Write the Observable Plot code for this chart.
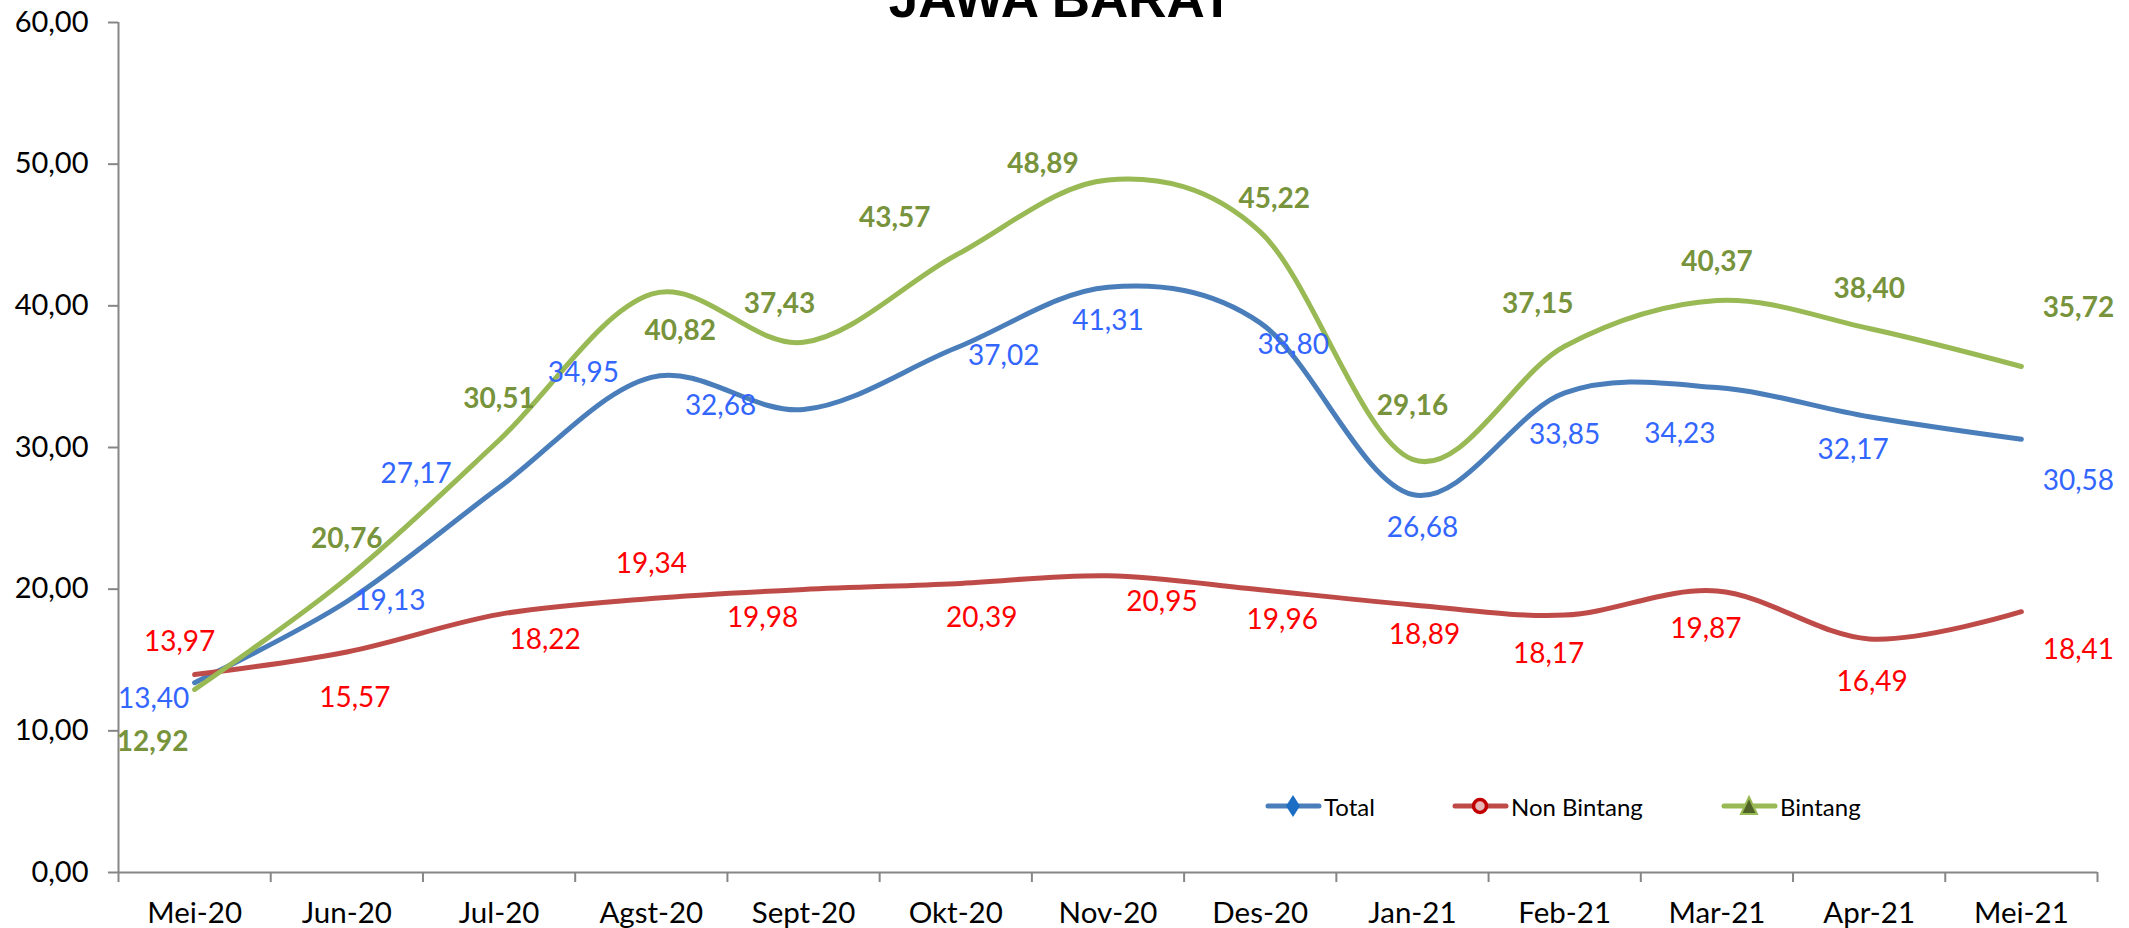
<!DOCTYPE html>
<html>
<head>
<meta charset="utf-8">
<script src="https://cdn.jsdelivr.net/npm/d3@7"></script>
<script src="https://cdn.jsdelivr.net/npm/@observablehq/plot@0.6"></script>
<style>
  body { margin: 0; background: #fff; }
  #wrap { position: relative; width: 2129px; height: 928px; overflow: hidden; background: #fff; }
  #title { position: absolute; left: 1061px; top: -28px; transform: translateX(-50%); margin: 0;
           font: bold 53px "Liberation Sans", Arial, sans-serif; line-height: 1; white-space: nowrap; color: #000; }
  .legend-item { position: absolute; top: 790px; height: 32px; display: flex; align-items: center;
                 font: 24px Lato, sans-serif; color: #000; white-space: nowrap; }
  .legend-item svg { margin-right: 2px; }
</style>
</head>
<body>
<div id="wrap">
  <div id="chart"></div>
  <h1 id="title">JAWA BARAT</h1>
  <div id="legend"></div>
</div>
<script>
// ---- data ----
const months = ["Mei-20","Jun-20","Jul-20","Agst-20","Sept-20","Okt-20","Nov-20","Des-20","Jan-21","Feb-21","Mar-21","Apr-21","Mei-21"];
const total      = [13.40,19.13,27.17,34.95,32.68,37.02,41.31,38.80,26.68,33.85,34.23,32.17,30.58];
const nonBintang = [13.97,15.57,18.22,19.34,19.98,20.39,20.95,19.96,18.89,18.17,19.87,16.49,18.41];
const bintang    = [12.92,20.76,30.51,40.82,37.43,43.57,48.89,45.22,29.16,37.15,40.37,38.40,35.72];
const yTicks = [0,10,20,30,40,50,60];
const seriesNames = ["Total","Non Bintang","Bintang"];

// ---- label placement (pixel nudges from each point) ----
const totalNudge = [[-41,16],[43,0],[-83,-14],[-68,-4],[-83,-4],[48,8],[0,34],[33,22],[10,33],[0,42],[-37,46],[-16,33],[57,42]];
const nonBintangNudge = [[-15,-33],[8,46],[46,26],[0,-34],[-41,29],[26,34],[54,26],[22,30],[12,30],[-16,39],[-11,38],[3,43],[57,38]];
const bintangNudge = [[-42,53],[0,-39],[0,-41],[29,37],[-24,-38],[-61,-37],[-65,-16],[14,-33],[0,-53],[-27,-42],[0,-39],[0,-39],[57,-58]];

const fmt = v => v.toFixed(2).replace(".", ",");

const series = [
  {name: seriesNames[0], values: total,      nudge: totalNudge,      line: "#4A7EBB", label: "#3366FF", weight: "normal"},
  {name: seriesNames[1], values: nonBintang, nudge: nonBintangNudge, line: "#BE4B48", label: "#FF0000", weight: "normal"},
  {name: seriesNames[2], values: bintang,    nudge: bintangNudge,    line: "#98B954", label: "#77933C", weight: "bold"}
];

const marks = [
  Plot.axisY({ticks: yTicks, tickSize: 10, tickPadding: 20, tickFormat: fmt, stroke: "#868686", strokeWidth: 2, fill: "#000", fontSize: 29, label: null}),
  Plot.axisX({ticks: d3.range(months.length + 1), tickSize: 10, tickFormat: () => "", stroke: "#868686", strokeWidth: 2, label: null}),
  Plot.axisX({ticks: d3.range(months.length).map(i => i + 0.5), tickSize: 0, tickPadding: 30, tickFormat: t => months[Math.floor(t)], fill: "#000", fontSize: 29.5, label: null}),
  Plot.ruleX([0], {stroke: "#868686", strokeWidth: 2}),
  Plot.ruleY([0], {stroke: "#868686", strokeWidth: 2})
];

for (const s of series) {
  marks.push(Plot.line(s.values, {
    x: (d, i) => i + 0.5, y: d => d,
    stroke: s.line, strokeWidth: 5, strokeLinecap: "round", strokeLinejoin: "round",
    curve: "cardinal"
  }));
}
for (const s of series) {
  s.values.forEach((v, i) => {
    marks.push(Plot.text([v], {
      x: () => i + 0.5, y: d => d, text: fmt,
      dx: s.nudge[i][0], dy: s.nudge[i][1],
      fill: s.label, fontWeight: s.weight, fontSize: 28, fontFamily: "Lato",
      textAnchor: "middle", lineAnchor: "middle"
    }));
  });
}

const chart = Plot.plot({
  width: 2129, height: 928,
  marginLeft: 118, marginRight: 32, marginTop: 22, marginBottom: 56,
  style: {fontFamily: "Lato", fontSize: "28px", background: "#fff", color: "#000"},
  x: {type: "linear", domain: [0, months.length], axis: null},
  y: {domain: [0, 60], axis: null},
  marks
});
document.getElementById("chart").appendChild(chart);

// ---- legend ----
const legendSpec = [
  {name: seriesNames[0], left: 1265, line: "#4A7EBB",
   marker: '<polygon points="28,4 35,15 28,26 21,15" fill="#1C6EC4"/>'},
  {name: seriesNames[1], left: 1452, line: "#BE4B48",
   marker: '<circle cx="28" cy="15" r="6.5" fill="#E6B9B8" stroke="#C00000" stroke-width="3.5"/>'},
  {name: seriesNames[2], left: 1721, line: "#98B954",
   marker: '<polygon points="28,6 36,23 20,23" fill="#4F6228" stroke="#98B954" stroke-width="2"/>'}
];
const legend = document.getElementById("legend");
for (const l of legendSpec) {
  const item = document.createElement("div");
  item.className = "legend-item";
  item.style.left = l.left + "px";
  item.innerHTML = `<svg width="57" height="30" viewBox="0 0 57 30"><line x1="3" y1="15" x2="54" y2="15" stroke="${l.line}" stroke-width="5" stroke-linecap="round"/>${l.marker}</svg><span>${l.name}</span>`;
  legend.appendChild(item);
}
</script>
</body>
</html>
